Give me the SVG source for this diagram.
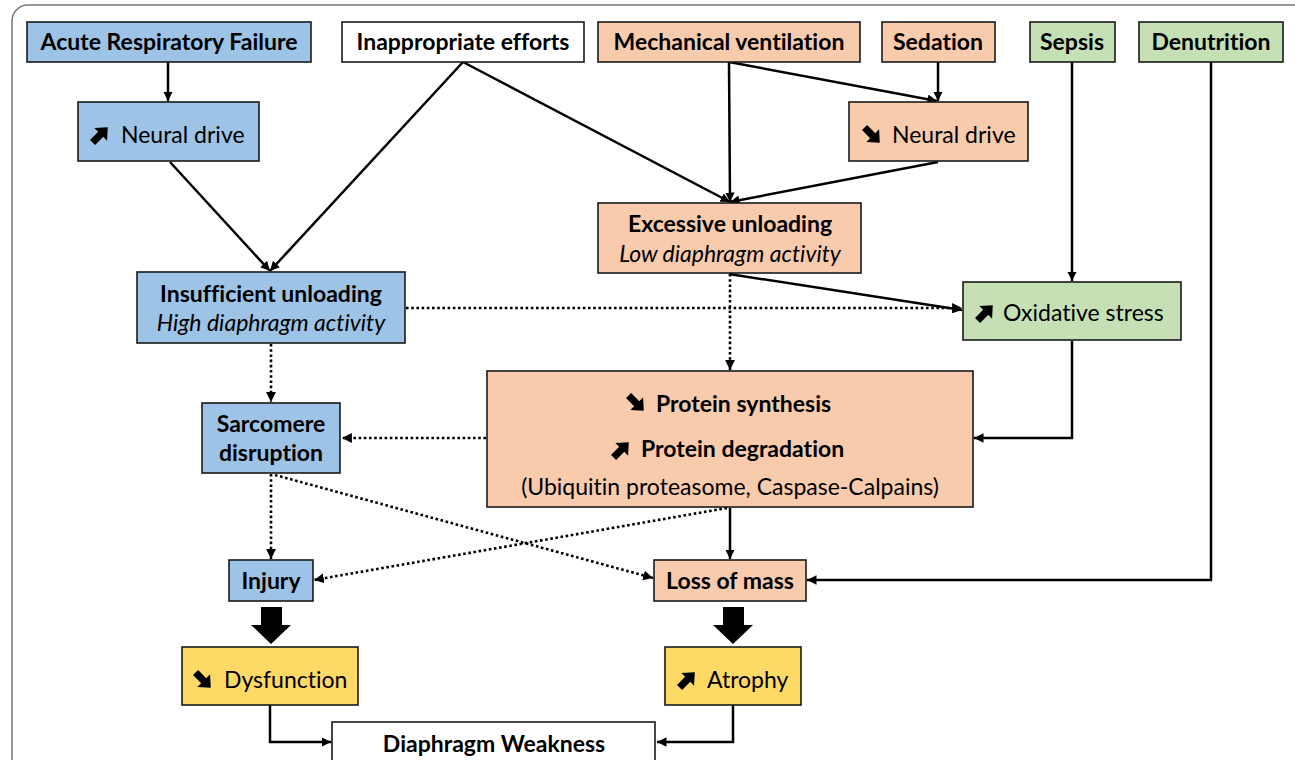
<svg xmlns="http://www.w3.org/2000/svg" width="1295" height="760" viewBox="0 0 1295 760">
<style>
.bx{stroke:#1a1a1a;stroke-width:1.6}
.blue{fill:#9DC3E6}.org{fill:#F8CBAD}.grn{fill:#C5E0B4}.yel{fill:#FFD966}.wht{fill:#fff}
text{font-family:Lato,"Open Sans","Liberation Sans",sans-serif;font-size:23px;fill:#000;font-variant-ligatures:none}
.b{font-weight:bold}.i{font-style:italic}
.c{text-anchor:middle}
.ln{fill:none;stroke:#000;stroke-width:2.5}
.dt{fill:none;stroke:#000;stroke-width:2.6;stroke-dasharray:2.6 2.6}
</style>
<defs>
<marker id="ah" viewBox="0 0 10 10" refX="10" refY="5" markerWidth="3.8" markerHeight="3.8" orient="auto" markerUnits="strokeWidth">
<path d="M0,0L10,5L0,10z" fill="#000"/>
</marker>
<path id="ic" d="M-10.5,-3.6L1,-3.6L1,-9L11,0L1,9L1,3.6L-10.5,3.6z" fill="#000"/>
</defs>
<rect x="12" y="5" width="1300" height="800" rx="16" fill="#fff" stroke="#777" stroke-width="1.5"/>

<g id="connectors">
<path class="ln" d="M168,62V101" marker-end="url(#ah)"/>
<path class="ln" d="M170,162L270,271" marker-end="url(#ah)"/>
<path class="ln" d="M463,62L270,271" marker-end="url(#ah)"/>
<path class="ln" d="M463,62L730,202" marker-end="url(#ah)"/>
<path class="ln" d="M729,62L730,202" marker-end="url(#ah)"/>
<path class="ln" d="M729,62L937,101" marker-end="url(#ah)"/>
<path class="ln" d="M938,62V101" marker-end="url(#ah)"/>
<path class="ln" d="M938,162L730,202" marker-end="url(#ah)"/>
<path class="ln" d="M1072,62V281" marker-end="url(#ah)"/>
<path class="ln" d="M1211,62V580H807" marker-end="url(#ah)"/>
<path class="ln" d="M729,274L962,310" marker-end="url(#ah)"/>
<path class="dt" d="M406,308H962" marker-end="url(#ah)"/>
<path class="dt" d="M730,274V370" marker-end="url(#ah)"/>
<path class="dt" d="M271,344V402" marker-end="url(#ah)"/>
<path class="dt" d="M486,438H342" marker-end="url(#ah)"/>
<path class="ln" d="M1072,341V438H974" marker-end="url(#ah)"/>
<path class="dt" d="M271,474V559" marker-end="url(#ah)"/>
<path class="dt" d="M275,475L653,578" marker-end="url(#ah)"/>
<path class="dt" d="M727,508L314,580" marker-end="url(#ah)"/>
<path class="ln" d="M730,508V559" marker-end="url(#ah)"/>
<path class="ln" d="M270,705V742H331" marker-end="url(#ah)"/>
<path class="ln" d="M733,705V742H657" marker-end="url(#ah)"/>
<path d="M261,607H282V625H291L271,644L251,625H261z" fill="#000"/>
<path d="M723,607H744V625H753L733,644L713,625H723z" fill="#000"/>
</g>

<g id="n-arf"><rect class="bx blue" x="27" y="22" width="284" height="40"/><text class="b c" x="169" y="50">Acute Respiratory Failure</text></g>
<g id="n-ineff"><rect class="bx wht" x="342" y="22" width="242" height="40"/><text class="b c" x="463" y="50">Inappropriate efforts</text></g>
<g id="n-mv"><rect class="bx org" x="598" y="22" width="262" height="40"/><text class="b c" x="729" y="50">Mechanical ventilation</text></g>
<g id="n-sed"><rect class="bx org" x="882" y="22" width="113" height="40"/><text class="b c" x="938" y="50">Sedation</text></g>
<g id="n-sepsis"><rect class="bx grn" x="1030" y="22" width="85" height="40"/><text class="b c" x="1072" y="50">Sepsis</text></g>
<g id="n-denut"><rect class="bx grn" x="1139" y="22" width="144" height="40"/><text class="b c" x="1211" y="50">Denutrition</text></g>

<g id="n-nd-up"><rect class="bx blue" x="78" y="102" width="181" height="59"/><use href="#ic" transform="translate(100,135) rotate(-45)"/><text x="121" y="143">Neural drive</text></g>
<g id="n-nd-down"><rect class="bx org" x="849" y="102" width="179" height="59"/><use href="#ic" transform="translate(872,135) rotate(45)"/><text x="892" y="143">Neural drive</text></g>

<g id="n-exc"><rect class="bx org" x="598" y="203" width="263" height="70"/><text class="b c" x="730" y="232">Excessive unloading</text><text class="i c" x="730" y="262">Low diaphragm activity</text></g>
<g id="n-insuf"><rect class="bx blue" x="137" y="272" width="268" height="71"/><text class="b c" x="271" y="302">Insufficient unloading</text><text class="i c" x="271" y="331">High diaphragm activity</text></g>
<g id="n-ox"><rect class="bx grn" x="963" y="282" width="218" height="58"/><use href="#ic" transform="translate(985,313) rotate(-45)"/><text x="1003" y="321">Oxidative stress</text></g>

<g id="n-sarc"><rect class="bx blue" x="202" y="403" width="138" height="70"/><text class="b c" x="271" y="432">Sarcomere</text><text class="b c" x="271" y="461">disruption</text></g>
<g id="n-prot"><rect class="bx org" x="487" y="371" width="486" height="136"/>
<use href="#ic" transform="translate(636,403) rotate(45)"/><text class="b" x="656" y="412">Protein synthesis</text>
<use href="#ic" transform="translate(621,450) rotate(-45)"/><text class="b" x="641" y="457">Protein degradation</text>
<text class="c" x="730" y="495">(Ubiquitin proteasome, Caspase-Calpains)</text></g>

<g id="n-inj"><rect class="bx blue" x="229" y="560" width="84" height="41"/><text class="b c" x="271" y="589">Injury</text></g>
<g id="n-loss"><rect class="bx org" x="654" y="560" width="152" height="41"/><text class="b c" x="730" y="589">Loss of mass</text></g>
<g id="n-dys"><rect class="bx yel" x="182" y="647" width="176" height="58"/><use href="#ic" transform="translate(203,680) rotate(45)"/><text x="224" y="688">Dysfunction</text></g>
<g id="n-atr"><rect class="bx yel" x="665" y="647" width="136" height="58"/><use href="#ic" transform="translate(687,680) rotate(-45)"/><text x="707" y="688">Atrophy</text></g>
<g id="n-weak"><rect class="bx wht" x="332" y="722" width="323" height="60"/><text class="b c" x="494" y="752">Diaphragm Weakness</text></g>
</svg>
